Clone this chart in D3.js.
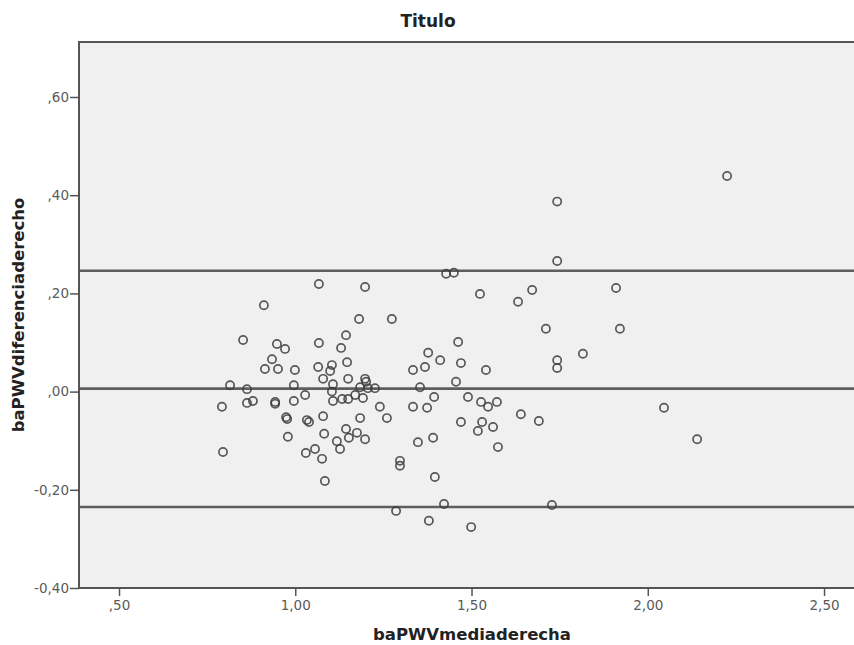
<!DOCTYPE html>
<html>
<head>
<meta charset="utf-8">
<script src="https://cdn.jsdelivr.net/npm/d3@7"></script>
<style>
  body { margin: 0; background: #fff; }
  svg { display: block; font-family: "DejaVu Sans", Arial, sans-serif; }
</style>
</head>
<body>
<svg id="chart" width="854" height="645"></svg>
<script>
// baPWV media derecha (x) y diferencia derecho (y)
const mediaderecha = [
  0.792, 0.795, 0.815, 0.852, 0.863, 0.863, 0.880, 0.911, 0.914, 0.934,
  0.943, 0.943, 0.948, 0.951, 0.971, 0.974, 0.977, 0.979, 0.996, 0.996,
  0.999, 1.028, 1.030, 1.033, 1.039, 1.056, 1.065, 1.067, 1.067, 1.076,
  1.079, 1.079, 1.082, 1.084, 1.099, 1.104, 1.104, 1.107, 1.107, 1.118,
  1.127, 1.130, 1.133, 1.144, 1.144, 1.147, 1.150, 1.150, 1.152, 1.170,
  1.175, 1.181, 1.184, 1.184, 1.192, 1.198, 1.198, 1.201, 1.198, 1.206,
  1.226, 1.240, 1.260, 1.274, 1.286, 1.297, 1.297, 1.334, 1.334, 1.348,
  1.354, 1.368, 1.374, 1.377, 1.379, 1.391, 1.394, 1.396, 1.411, 1.422,
  1.428, 1.450, 1.456, 1.462, 1.470, 1.470, 1.490, 1.499, 1.518, 1.524,
  1.527, 1.530, 1.541, 1.547, 1.561, 1.572, 1.575, 1.632, 1.640, 1.672,
  1.691, 1.711, 1.728, 1.743, 1.743, 1.743, 1.743, 1.816, 1.910, 1.921,
  2.046, 2.140, 2.225
];
const diferenciaderecho = [
  -0.031, -0.123, 0.013, 0.105, 0.005, -0.023, -0.019, 0.176, 0.046, 0.066,
  -0.021, -0.025, 0.097, 0.046, 0.087, -0.052, -0.056, -0.092, 0.013, -0.019,
  0.044, -0.007, -0.125, -0.058, -0.062, -0.117, 0.050, 0.219, 0.099, -0.137,
  0.026, -0.050, -0.086, -0.182, 0.042, 0.054, 0.000, 0.015, -0.019, -0.101,
  -0.117, 0.089, -0.015, 0.115, -0.076, 0.060, 0.026, -0.015, -0.094, -0.007,
  -0.084, 0.148, 0.009, -0.054, -0.013, 0.213, 0.026, 0.020, -0.097, 0.007,
  0.007, -0.031, -0.054, 0.148, -0.243, -0.141, -0.151, 0.044, -0.031, -0.103,
  0.009, 0.050, -0.033, 0.079, -0.263, -0.094, -0.011, -0.174, 0.064, -0.229,
  0.240, 0.242, 0.020, 0.101, 0.058, -0.062, -0.011, -0.276, -0.080, 0.199,
  -0.021, -0.062, 0.044, -0.031, -0.072, -0.021, -0.113, 0.183, -0.046, 0.207,
  -0.060, 0.128, -0.231, 0.387, 0.266, 0.064, 0.048, 0.077, 0.211, 0.128,
  -0.033, -0.097, 0.439
];
// media y limites de concordancia
const limites = [0.246, 0.006, -0.235];
const xTicks = [0.5, 1.0, 1.5, 2.0, 2.5];
const yTicks = [-0.4, -0.2, 0.0, 0.2, 0.4, 0.6];

const svg = d3.select("#chart");
const margin = { top: 42, right: 0, bottom: 57, left: 79 };
const width = 854 - margin.left - margin.right;
const height = 645 - margin.top - margin.bottom;

const x = d3.scaleLinear().domain([0.3865, 2.585]).range([0, width]);
const y = d3.scaleLinear().domain([-0.4, 0.712]).range([height, 0]);

// 2,00 -> "2,00", 0,60 -> ",60", -0,20 -> "-,20"
const fmt = d => d3.format(".2f")(d).replace(".", ",").replace(/^(-?)0,/, "$1,").replace("−", "-");

const g = svg.append("g").attr("transform", `translate(${margin.left},${margin.top})`);

g.append("rect")
  .attr("width", width + 10)
  .attr("height", height)
  .attr("fill", "#f0f0f0");

// top frame line
g.append("line")
  .attr("x1", 0).attr("x2", width + 10)
  .attr("y1", 0).attr("y2", 0)
  .attr("stroke", "#555").attr("stroke-width", 2);

// reference lines
g.selectAll(".ref")
  .data(limites)
  .enter().append("line")
  .attr("class", "ref")
  .attr("x1", 0).attr("x2", width + 10)
  .attr("y1", d => y(d)).attr("y2", d => y(d))
  .attr("stroke", "#5e5e5e")
  .attr("stroke-width", 2.6);

// points
g.selectAll(".pt")
  .data(d3.range(mediaderecha.length))
  .enter().append("circle")
  .attr("class", "pt")
  .attr("cx", i => x(mediaderecha[i]))
  .attr("cy", i => y(diferenciaderecho[i]))
  .attr("r", 4.1)
  .attr("fill", "none")
  .attr("stroke", "#3c3c3c")
  .attr("stroke-opacity", 0.85)
  .attr("stroke-width", 1.7);

// axes
const xAxis = g.append("g")
  .attr("transform", `translate(0,${height})`)
  .call(d3.axisBottom(x).tickValues(xTicks).tickFormat(fmt).tickSize(8).tickSizeOuter(0));
xAxis.select(".domain").attr("stroke", "#555").attr("stroke-width", 2)
  .attr("d", `M0,0H${width + 10}`);
xAxis.selectAll(".tick line").attr("stroke", "#555").attr("stroke-width", 1.5);
xAxis.selectAll(".tick text").attr("fill", "#5a5a5a").attr("font-size", 13.5)
  .attr("font-family", "'DejaVu Sans', sans-serif").attr("y", 12).attr("dy", "0.71em");

const yAxis = g.append("g")
  .call(d3.axisLeft(y).tickValues(yTicks).tickFormat(fmt).tickSize(9).tickSizeOuter(0));
yAxis.select(".domain").attr("stroke", "#555").attr("stroke-width", 2)
  .attr("d", `M0,${height + 1}V-1`);
yAxis.selectAll(".tick line").attr("stroke", "#555").attr("stroke-width", 1.5);
yAxis.selectAll(".tick text").attr("fill", "#5a5a5a").attr("font-size", 13.5)
  .attr("font-family", "'DejaVu Sans', sans-serif").attr("x", -10);

// titles
svg.append("text")
  .attr("x", 428).attr("y", 27)
  .attr("text-anchor", "middle")
  .attr("font-size", 17).attr("font-weight", "bold").attr("fill", "#222")
  .text("Titulo");

svg.append("text")
  .attr("x", 472).attr("y", 640)
  .attr("text-anchor", "middle")
  .attr("font-size", 16.5).attr("font-weight", "bold").attr("fill", "#222")
  .text("baPWVmediaderecha");

svg.append("text")
  .attr("transform", `translate(24,${margin.top + height / 2}) rotate(-90)`)
  .attr("text-anchor", "middle")
  .attr("font-size", 16.5).attr("font-weight", "bold").attr("fill", "#222")
  .text("baPWVdiferenciaderecho");
</script>
</body>
</html>
